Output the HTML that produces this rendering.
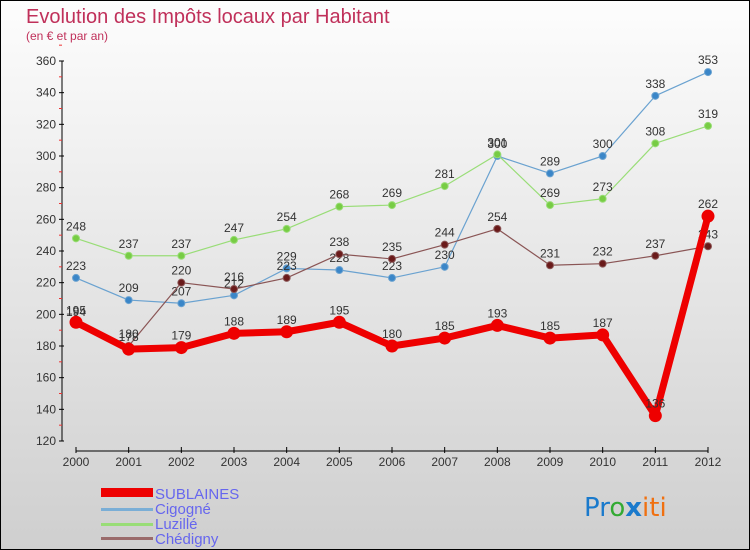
<!DOCTYPE html>
<html><head><meta charset="utf-8"><style>
body{margin:0}
#c{position:relative;width:748px;height:548px;border:1px solid #000;background:linear-gradient(#fdfdfd,#cfcfcf);overflow:hidden;font-family:"Liberation Sans",sans-serif}
</style></head><body>
<div id="c">
<svg id="s" width="748" height="548" style="position:absolute;left:0;top:0">
<text x="25" y="22" font-size="20" fill="#c0305a">Evolution des Impôts locaux par Habitant</text>
<text x="25" y="39" font-size="12" fill="#c0305a">(en € et par an)</text>
<g id="axes"></g><g id="series"></g>
<g>
<rect x="100" y="487" width="52" height="9" fill="#e00"/>
<text x="154" y="498" font-size="15" fill="#6666ee">SUBLAINES</text>
<rect x="100" y="507" width="52" height="3" fill="#7aaed6"/>
<text x="154" y="513" font-size="15" fill="#6666ee">Cigogné</text>
<rect x="100" y="522" width="52" height="3" fill="#99dd77"/>
<text x="154" y="528" font-size="15" fill="#6666ee">Luzillé</text>
<rect x="100" y="536" width="52" height="3" fill="#9a6b6b"/>
<text x="154" y="543" font-size="15" fill="#6666ee">Chédigny</text>
</g>
<text x="583" y="515" font-size="26" font-family="'DejaVu Sans',sans-serif"><tspan fill="#1a7acc">Pr</tspan><tspan fill="#3a3">o</tspan><tspan fill="#1a7acc" font-weight="bold">x</tspan><tspan fill="#f07010">iti</tspan></text>
</svg></div>
<script>
const years=["2000","2001","2002","2003","2004","2005","2006","2007","2008","2009","2010","2011","2012"];
const yTicks=[120,140,160,180,200,220,240,260,280,300,320,340,360];
const sublaines=[195,178,179,188,189,195,180,185,193,185,187,136,262];
const cigogne=[223,209,207,212,229,228,223,230,300,289,300,338,353];
const luzille=[248,237,237,247,254,268,269,281,301,269,273,308,319];
const chedigny=[194,180,220,216,223,238,235,244,254,231,232,237,243];
const NS="http://www.w3.org/2000/svg";
function X(i){return 75+i*(632/(years.length-1));}
function Y(v){return 440-(v-120)*380/240;}
function mk(t,a,p){const e=document.createElementNS(NS,t);for(const k in a)e.setAttribute(k,a[k]);p.appendChild(e);return e;}
const ax=document.getElementById('axes');
let e=mk('line',{x1:61,y1:Y(360),x2:61,y2:Y(120),stroke:'#000'},ax);


yTicks.forEach(v=>{
 mk('line',{x1:58,y1:Y(v),x2:63,y2:Y(v),stroke:'#000'},ax);
 mk('line',{x1:58,y1:Y(v+10),x2:61,y2:Y(v+10),stroke:'#e33'},ax);
 const t=mk('text',{x:55,y:Y(v)+4,'font-size':12,fill:'#333','text-anchor':'end'},ax);t.textContent=v;
 
 
});
e=mk('line',{x1:X(0),y1:450,x2:X(12),y2:450,stroke:'#000'},ax);


years.forEach((y,i)=>{
 mk('line',{x1:X(i),y1:446,x2:X(i),y2:452,stroke:'#000'},ax);
 const t=mk('text',{x:X(i),y:465,'font-size':12,fill:'#333','text-anchor':'middle'},ax);t.textContent=y;
 
 
});
const sg=document.getElementById('series');
function draw(data,name,col,dot,w,r){
 const g=mk('g',{},sg);
 
 
 mk('polyline',{points:data.map((v,i)=>X(i)+','+Y(v)).join(' '),fill:'none',stroke:col,'stroke-width':w,'stroke-linejoin':'round'},g);
 data.forEach((v,i)=>{
  const c=mk('circle',{cx:X(i),cy:Y(v),r:r,fill:dot,stroke:col,'stroke-width':1},g);
  
  
  const t=mk('text',{x:X(i),y:Y(v)-8,'font-size':12,fill:'#333','text-anchor':'middle'},g);t.textContent=v;
  
  
 });
}
draw(cigogne,'cigogne','#6aa2d0','#3a86c8',1.2,3.5);
draw(luzille,'luzille','#99dd77','#77cc44',1.2,3.5);
draw(chedigny,'chedigny','#8a5555','#6a1a1a',1.2,3.5);
draw(sublaines,'sublaines','#ee0000','#ee0000',7,6);
</script>
</body></html>
